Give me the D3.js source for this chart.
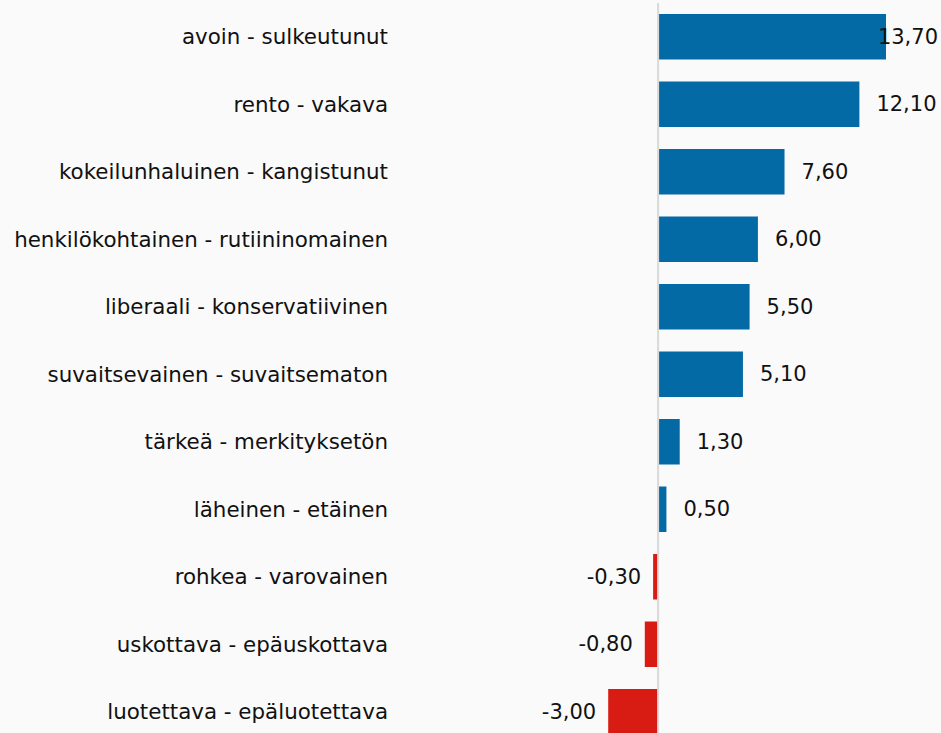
<!DOCTYPE html>
<html><head><meta charset="utf-8">
<script src="https://cdn.jsdelivr.net/npm/d3@7"></script>
<style>html,body{margin:0;padding:0;background:#fafafa;overflow:hidden}</style>
</head><body>
<svg id="c" width="941" height="733"></svg>
<script>
const categories = ["avoin - sulkeutunut","rento - vakava","kokeilunhaluinen - kangistunut","henkilökohtainen - rutiininomainen","liberaali - konservatiivinen","suvaitsevainen - suvaitsematon","tärkeä - merkityksetön","läheinen - etäinen","rohkea - varovainen","uskottava - epäuskottava","luotettava - epäluotettava"];
const values = [13.7,12.1,7.6,6.0,5.5,5.1,1.3,0.5,-0.3,-0.8,-3.0];

const W = 941, H = 733;
const svg = d3.select("#c");
svg.append("rect").attr("width",W).attr("height",H).attr("fill","#fafafa");

const x = d3.scaleLinear().domain([-3, 13.7]).range([608.2, 886]);
const y = d3.scaleBand().domain(categories).range([3, 745.5]).paddingInner(0.326).paddingOuter(0.163);
const fmt = v => d3.format(".2f")(v).replace(".", ",").replace("−","-");
const font = "'DejaVu Sans', Verdana, sans-serif";

const data = categories.map((c,i)=>({c, v: values[i]}));

svg.selectAll("rect.bar").data(data).join("rect").attr("class","bar")
  .attr("x", d => Math.min(x(0), x(d.v)))
  .attr("width", d => Math.abs(x(d.v) - x(0)))
  .attr("y", d => y(d.c))
  .attr("height", y.bandwidth())
  .attr("fill", d => d.v >= 0 ? "#046aa6" : "#d91c13");

svg.append("line").attr("x1", x(0)).attr("x2", x(0)).attr("y1", 3).attr("y2", H)
  .attr("stroke", "#d9d9d9").attr("stroke-width", 2);

svg.selectAll("text.cat").data(data).join("text").attr("class","cat")
  .attr("x", 388).attr("y", d => y(d.c) + y.bandwidth()/2)
  .attr("text-anchor","end").attr("dominant-baseline","central")
  .attr("font-family", font).attr("font-size", 21.4).attr("fill","#111")
  .text(d => d.c);

const vl = svg.selectAll("text.val").data(data).join("text").attr("class","val")
  .attr("y", d => y(d.c) + y.bandwidth()/2)
  .attr("dominant-baseline","central")
  .attr("font-family", font).attr("font-size", 21).attr("fill","#111")
  .text(d => fmt(d.v));
vl.each(function(d){
  const t = d3.select(this);
  const w = this.getComputedTextLength();
  if (d.v >= 0) {
    const xs = Math.min(x(d.v) + 17, W - 3 - w);
    t.attr("x", xs).attr("text-anchor","start");
  } else {
    t.attr("x", x(d.v) - 12).attr("text-anchor","end");
  }
});
</script>
</body></html>
